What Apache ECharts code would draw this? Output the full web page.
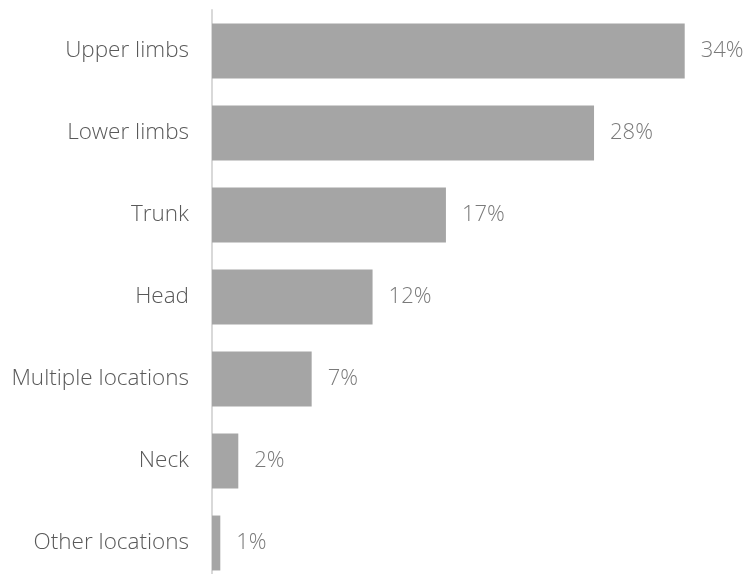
<!DOCTYPE html>
<html><head><meta charset="utf-8">
<script src="https://cdn.jsdelivr.net/npm/echarts@6/dist/echarts.min.js"></script>
<style>html,body{margin:0;padding:0;background:#fff;overflow:hidden}#c{width:748px;height:574px}</style>
</head><body><div id="c"></div>
<script>
const categories = ["Upper limbs","Lower limbs","Trunk","Head","Multiple locations","Neck","Other locations"];
const values = [34.15, 27.6, 16.9, 11.6, 7.2, 1.9, 0.6];
const labels = ["34%","28%","17%","12%","7%","2%","1%"];

const chart = echarts.init(document.getElementById('c'));
chart.setOption({
  animation:false,
  grid:{left:212,right:10,top:10,height:574,containLabel:false,outerBoundsMode:'none'},
  xAxis:{type:'value',min:0,max:38,show:false},
  yAxis:{type:'category',data:categories,inverse:true,
    axisLine:{show:true,lineStyle:{color:'#d9d9d9',width:2}},
    axisTick:{show:false},
    axisLabel:{color:'#595959',fontSize:22.5,fontFamily:'Open Sans',fontWeight:300,margin:23}},
  series:[{type:'bar',data:values,barCategoryGap:'33%',
    itemStyle:{color:'#a5a5a5'},
    label:{show:true,position:'right',distance:16,color:'#7a7a7a',fontSize:22,fontFamily:'Open Sans',fontWeight:300,
      formatter:p=>labels[p.dataIndex]}}]
});
</script></body></html>
